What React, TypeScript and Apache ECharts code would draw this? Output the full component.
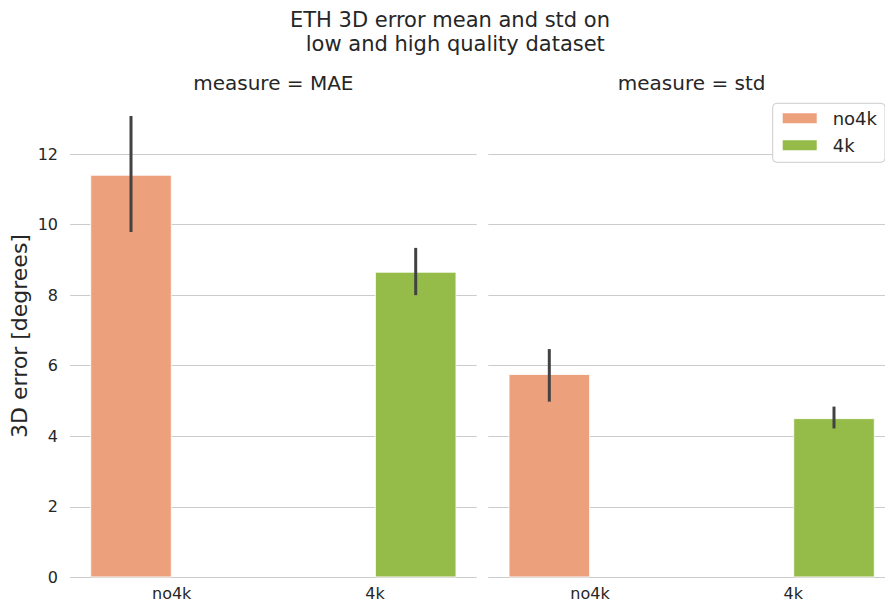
import { useEffect, useRef } from "react";
import * as echarts from "echarts";

const categories = ["no4k", "4k"];
const hueNames = ["no4k", "4k"];
const hueColors = ["#eca07b", "#95bb48"];
const maeMean = [11.41, 8.66];
const maeLow = [9.79, 8.0];
const maeHigh = [13.08, 9.34];
const stdMean = [5.76, 4.51];
const stdLow = [4.98, 4.22];
const stdHigh = [6.47, 4.84];
const yMin = 0;
const yMax = 13.7;
const yInterval = 2;
const mainTitle = ["ETH 3D error mean and std on", "low and high quality dataset"];
const panelTitles = ["measure = MAE", "measure = std"];
const yLabel = "3D error [degrees]";

const FONT = "'DejaVu Sans', sans-serif";
const TEXT = "#262626";

export default function App() {
  const ref = useRef<HTMLDivElement>(null);
  useEffect(() => {
    if (!ref.current) return;
    const chart = echarts.init(ref.current, undefined, { renderer: "svg" });
    const panels = [
      { mean: maeMean, low: maeLow, high: maeHigh },
      { mean: stdMean, low: stdLow, high: stdHigh },
    ];
    const gridTop = 94.1;
    const gridH = 483.2;
    const gridW = 406.7;
    const grids = [
      { left: 70, top: gridTop, width: gridW, height: gridH },
      { left: 488.3, top: gridTop, width: gridW, height: gridH },
    ];
    const xAxes = grids.map((_, gi) => ({
      type: "category",
      gridIndex: gi,
      data: categories,
      axisLine: { show: false },
      axisTick: { show: false },
      axisLabel: { fontSize: 16, color: TEXT, fontFamily: FONT, margin: 8 },
    }));
    const yAxes = grids.map((_, gi) => ({
      type: "value",
      gridIndex: gi,
      min: yMin,
      max: yMax,
      interval: yInterval,
      axisLine: { show: false },
      axisTick: { show: false },
      axisLabel: {
        show: gi === 0,
        showMaxLabel: false,
        fontSize: 16,
        color: TEXT,
        fontFamily: FONT,
        margin: 12,
      },
      splitLine: {
        show: true,
        showMaxLine: false,
        lineStyle: { color: "#cccccc", width: 1.1 },
      },
    }));
    const series: any[] = [];
    panels.forEach((p, pi) => {
      hueNames.forEach((hn, hi) => {
        series.push({
          type: "bar",
          name: hn,
          xAxisIndex: pi,
          yAxisIndex: pi,
          barGap: "0%",
          barCategoryGap: "20%",
          itemStyle: { color: hueColors[hi], borderColor: "#ffffff", borderWidth: 0.8 },
          data: categories.map((_, ci) => (ci === hi ? p.mean[ci] : "-")),
          z: 2,
        });
      });
      series.push({
        type: "custom",
        name: "ci",
        xAxisIndex: pi,
        yAxisIndex: pi,
        z: 5,
        data: categories.map((_, ci) => [ci, p.low[ci], p.high[ci], ci]),
        encode: { x: 0, y: [1, 2] },
        renderItem: (_params: any, api: any) => {
          const x = api.value(0);
          const lo = api.value(1);
          const hi = api.value(2);
          const h = api.value(3);
          const p1 = api.coord([x, lo]);
          const p2 = api.coord([x, hi]);
          const bw = api.size([1, 0])[0];
          const off = (h === 0 ? -0.2 : 0.2) * bw;
          return {
            type: "line",
            shape: { x1: p1[0] + off, y1: p1[1], x2: p2[0] + off, y2: p2[1] },
            style: { stroke: "#424242", lineWidth: 3 },
          };
        },
      });
    });
    const option: any = {
      animation: false,
      backgroundColor: "#ffffff",
      grid: grids,
      xAxis: xAxes,
      yAxis: yAxes,
      series,
      legend: {
        data: hueNames,
        left: 772.7,
        top: 103.3,
        orient: "vertical",
        icon: "rect",
        itemWidth: 36,
        itemHeight: 12,
        itemGap: 9,
        padding: [6, 8, 8, 8],
        backgroundColor: "#ffffff",
        borderColor: "#cccccc",
        borderWidth: 1,
        borderRadius: 4,
        textStyle: { fontSize: 18, color: TEXT, fontFamily: FONT, padding: [0, 0, 0, 10] },
        z: 10,
      },
      graphic: [
        {
          type: "text",
          x: 450,
          y: 19.7,
          style: { text: mainTitle[0], fontSize: 21, fill: TEXT, fontFamily: FONT, textAlign: "center", textVerticalAlign: "middle" },
        },
        {
          type: "text",
          x: 455.3,
          y: 44.4,
          style: { text: mainTitle[1], fontSize: 21, fill: TEXT, fontFamily: FONT, textAlign: "center", textVerticalAlign: "middle" },
        },
        {
          type: "text",
          x: 70 + gridW / 2,
          y: 83.1,
          style: { text: panelTitles[0], fontSize: 20, fill: TEXT, fontFamily: FONT, textAlign: "center", textVerticalAlign: "middle" },
        },
        {
          type: "text",
          x: 488.3 + gridW / 2,
          y: 83.1,
          style: { text: panelTitles[1], fontSize: 20, fill: TEXT, fontFamily: FONT, textAlign: "center", textVerticalAlign: "middle" },
        },
        {
          type: "text",
          x: 19.4,
          y: 336,
          rotation: Math.PI / 2,
          style: { text: yLabel, fontSize: 22, fill: TEXT, fontFamily: FONT, textAlign: "center", textVerticalAlign: "middle" },
        },
      ],
    };
    chart.setOption(option);
    return () => chart.dispose();
  }, []);
  return (
    <div
      style={{ position: "absolute", left: 0, top: 0, width: 885, height: 608, overflow: "hidden" }}
    >
      <div ref={ref} style={{ width: 905, height: 608 }} />
    </div>
  );
}
